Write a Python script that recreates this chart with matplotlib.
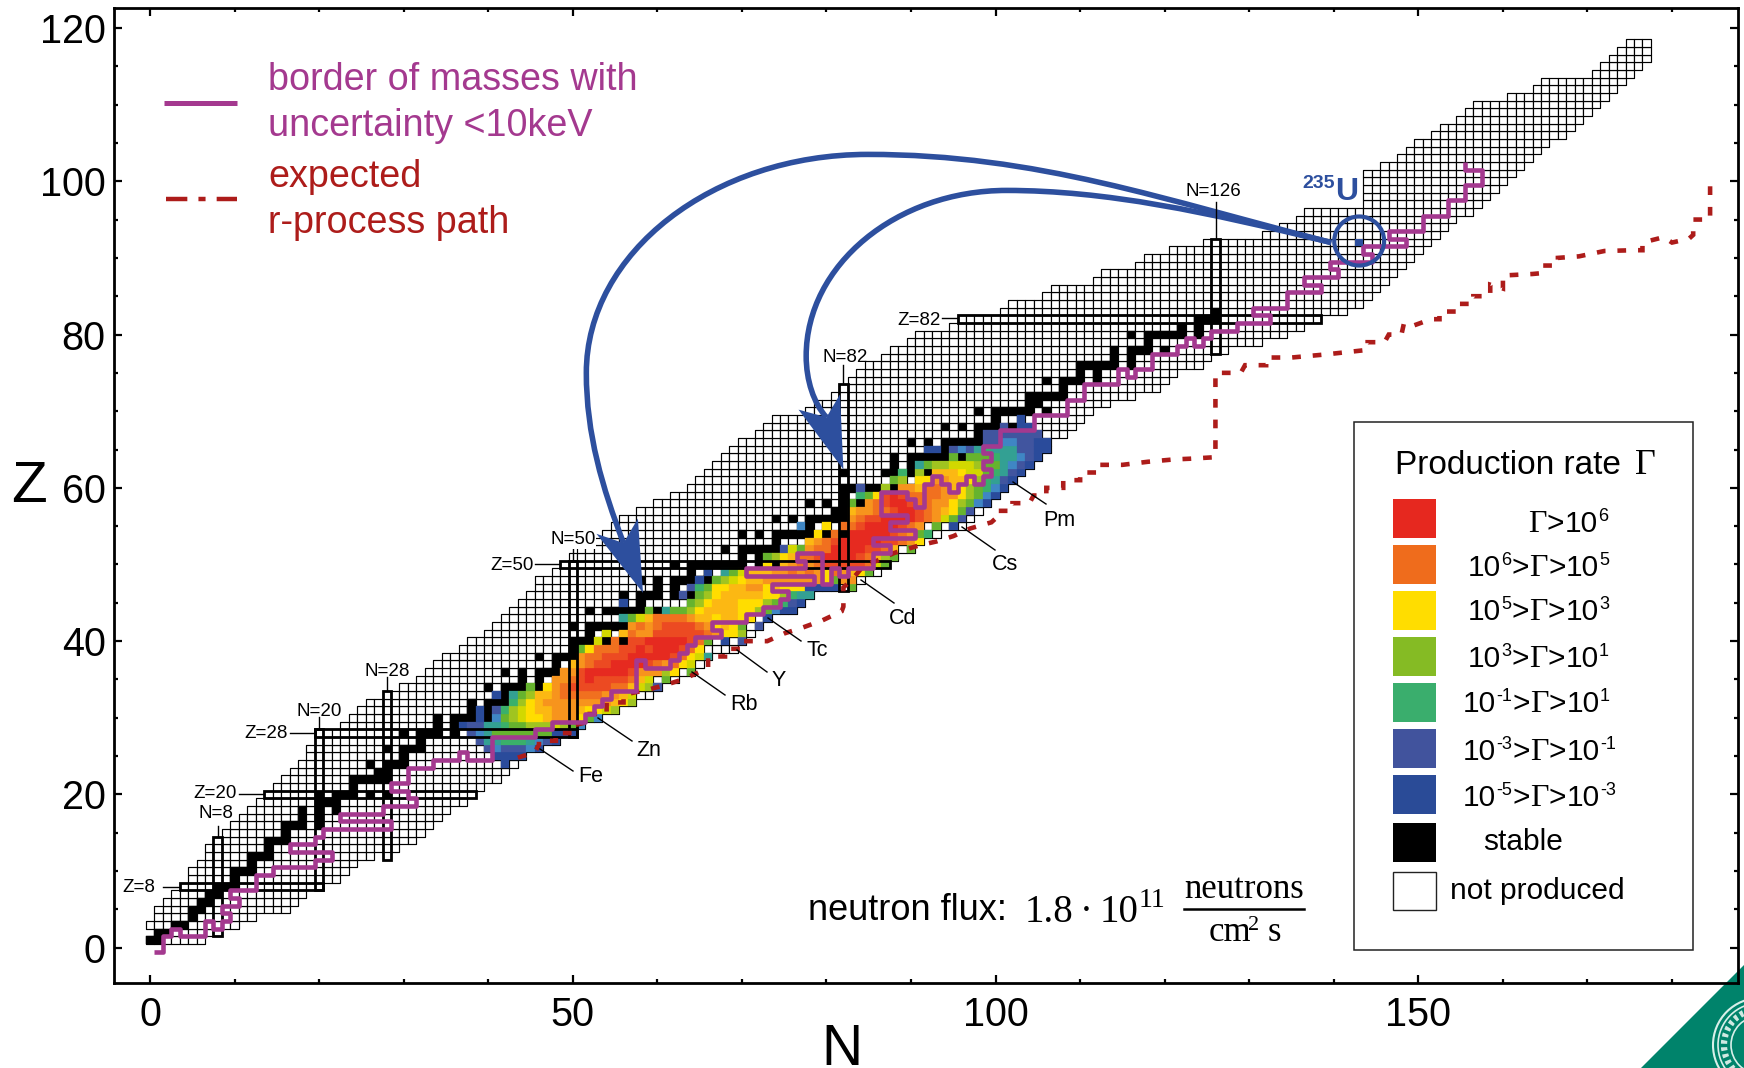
import numpy as np
import matplotlib
matplotlib.use("Agg")
import matplotlib.pyplot as plt
from matplotlib.collections import PolyCollection
from matplotlib.lines import Line2D
from matplotlib.patches import Rectangle, Ellipse, Polygon, PathPatch, Circle
from matplotlib.path import Path
from matplotlib.transforms import IdentityTransform
from matplotlib.ticker import MultipleLocator

W, H = 1744, 1068
SANS = "Liberation Sans"
SERIF = "Liberation Serif"

# ---- nuclide chart extent: first / last N for Z = 1..118
NMIN = [0,1,0,1,1,2,3,4,5,5,6,7,7,8,9,10,11,12,13,14,15,16,17,18,19,19,20,20,23,24,
        25,26,28,30,32,33,34,35,37,38,40,41,42,43,44,45,46,46,48,49,50,51,52,54,55,56,58,60,62,64,
        65,66,67,68,69,70,72,73,74,78,79,81,82,83,84,85,87,88,90,91,95,96,101,102,106,107,112,113,117,118,
        121,125,132,134,136,137,144,144,144,144,144,146,148,149,150,152,153,155,156,157,161,164,165,171,172,173,174,175]
NMAX = [6,8,10,12,16,17,18,20,22,23,24,26,29,31,32,33,34,35,37,38,39,41,42,43,44,46,48,50,51,53,
        55,57,59,60,62,64,65,66,69,70,71,72,73,76,77,78,83,84,86,87,88,90,91,93,96,97,98,99,100,101,
        102,103,104,105,106,106,108,109,110,111,113,116,119,120,121,124,125,127,131,134,136,138,141,143,144,145,146,147,148,149,
        150,151,152,153,154,156,157,158,159,160,161,162,163,164,165,167,168,169,170,171,172,173,174,175,176,177,177,177]

# ---- stable nuclides: Z -> neutron numbers
STABLE = {
 1:[0,1],2:[1,2],3:[3,4],4:[5],5:[5,6],6:[6,7],7:[7,8],8:[8,9,10],9:[10],10:[10,11,12],11:[12],
 12:[12,13,14],13:[14],14:[14,15,16],15:[16],16:[16,17,18,20],17:[18,20],18:[18,20,22],19:[20,21,22],
 20:[20,22,23,24,26,28],21:[24],22:[24,25,26,27,28],23:[27,28],24:[26,28,29,30],25:[30],26:[28,30,31,32],
 27:[32],28:[30,32,33,34,36],29:[34,36],30:[34,36,37,38,40],31:[38,40],32:[38,40,41,42,44],33:[42],
 34:[40,42,43,44,46,48],35:[44,46],36:[42,44,46,47,48,50],37:[48,50],38:[46,48,49,50],39:[50],
 40:[50,51,52,54,56],41:[52],42:[50,52,53,54,55,56,58],44:[52,54,55,56,57,58,60],45:[58],
 46:[56,58,59,60,62,64],47:[60,62],48:[58,60,62,63,64,65,66,68],49:[64,66],
 50:[62,64,65,66,67,68,69,70,72,74],51:[70,72],52:[68,70,71,72,73,74,76,78],53:[74],
 54:[70,72,74,75,76,77,78,80,82],55:[78],56:[74,76,78,79,80,81,82],57:[81,82],58:[78,80,82,84],59:[82],
 60:[82,83,84,85,86,88,90],62:[82,87,88,90,92],63:[88,90],64:[88,90,91,92,93,94,96],65:[94],
 66:[90,92,94,95,96,97,98],67:[98],68:[94,96,98,99,100,102],69:[100],70:[98,100,101,102,103,104,106],
 71:[104,105],72:[104,105,106,107,108],73:[108],74:[106,108,109,110,112],75:[110,112],
 76:[110,111,112,113,114,116],77:[114,116],78:[114,116,117,118,120],79:[118],
 80:[116,118,119,120,121,122,124],81:[122,124],82:[124,125,126],83:[126],
}

# ---- production rate classes: (Z, first N, one code per nuclide; '.' = nothing drawn)
RATE_ROWS = [
 (24,42,"0"),(25,41,"0000"),(26,40,"1211120"),(27,39,"1334443210"),
 (28,38,"1235555555000"),(29,37,"011334556667652"),(30,39,"0.2567889aaa852"),
 (31,39,"0.1467899aaa98876"),(32,43,"4689aaaaaaaa986"),(33,41,"0.35699abbbbbaa97"),
 (34,45,"5.8abcccccbb9761"),(35,48,"aabcdccccb97.5"),(36,49,"aacdddddcaaa68.5"),
 (37,50,"9abccddddcbab87"),(38,51,"abbcccdddddcb873"),(39,51,"58bbbccdcdddcb8"),
 (40,53,"7.b.ccdddddcb5.0.1"),(41,54,"7.9baaccccccba886"),(42,57,"ababccccba8985.1"),
 (43,56,"3579bbbba9989988.0"),(44,59,"5.3556899998865200"),(45,56,"0"),(45,64,"56899988865410"),
 (46,63,"1.56899999886433"),(47,64,"1458899aa898880000.5"),(48,65,"0.567899aaaaaaa85aa"),
 (49,66,"0.357999aababa8ba985"),(50,73,"8.9ababcccccb75"),(51,73,"5689bbcddddcb965"),
 (52,75,"175abbddddccb9.5"),(53,78,"9abcdddddccba8"),(54,79,"8.b.dddddcba54"),
 (55,77,"2"),(55,80,"8.bbcddddcba.5.0"),(56,83,"abccddddcba751"),(57,83,"9aabbcddcba9851"),
 (58,83,"5.abcddcbbaa86520"),(59,84,"458cdcbbbbaa86520"),(60,84,"1"),(60,87,"6.aa9bba9865420"),
 (61,88,"56.88aa99864310"),(62,89,"4.6.99987754310"),(63,91,"35667776553210"),
 (64,95,"5.555433210"),(65,92,"00.121343331100"),(66,99,"11221100"),(67,99,"1111111"),
 (68,101,"1.00"),(69,103,"0"),
]
RATE_COLORS = {"0":"#2a4b9b","1":"#41559f","2":"#3f86c4","3":"#33a093","4":"#3ab06a","5":"#66b32e",
               "6":"#a0c420","7":"#d2d800","8":"#ffdd00","9":"#fcb813","a":"#f7941d","b":"#f1701f",
               "c":"#ec4a22","d":"#e62a20"}

# ---- closed-shell boxes
MAGIC_Z = [(8,3.5,20.5),(20,13.5,38.5),(28,19.5,50.5),(50,48.5,87.5),(82,95.5,138.5)]
MAGIC_N = [(8,1.5,14.5),(20,7.5,28.5),(28,11.5,33.5),(50,27.5,50.5),(82,46.5,73.5),(126,77.5,92.5)]

# ---- mass uncertainty border (N, Z)
BORDER = [(0.5,-0.5),(1.5,-0.5),(1.5,1.5),(2.5,1.5),(2.5,2.5),(3.5,2.5),(3.5,1.5),(6.5,1.5),(6.5,3.5),(7.5,3.5),
 (7.5,2.5),(8.5,2.5),(8.5,3.5),(9.5,3.5),(9.5,4.5),(8.5,4.5),(8.5,5.5),(10.5,5.5),(10.5,6.5),(9.5,6.5),(9.5,7.5),
 (12.5,7.5),(12.5,9.5),(14.5,9.5),(14.5,10.5),(19.5,10.5),(19.5,11.5),(21.5,11.5),(21.5,12.5),(16.5,12.5),
 (16.5,13.5),(19.5,13.5),(19.5,14.5),(20.5,14.5),(20.5,15.5),(28.5,15.5),(28.5,16.5),(22.5,16.5),(22.5,17.5),
 (27.5,17.5),(27.5,18.5),(31.5,18.5),(31.5,19.5),(30.5,19.5),(30.5,20.5),(28.5,20.5),(28.5,21.5),(30.5,21.5),
 (30.5,23.5),(33.5,23.5),(33.5,24.5),(36.5,24.5),(36.5,25.5),(37.5,25.5),(37.5,24.5),(40.5,24.5),(40.5,27.5),
 (45.5,27.5),(45.5,28.5),(47.5,28.5),(47.5,29.5),(51.5,29.5),(51.5,30.5),(52.5,30.5),(52.5,31.5),(53.5,31.5),
 (53.5,32.5),(54.5,32.5),(54.5,33.5),(57.5,33.5),(57.5,37.5),(58.5,37.5),(58.5,36.5),(61.5,36.5),(61.5,37.5),
 (62.5,37.5),(62.5,38.5),(63.5,38.5),(63.5,39.5),(64.5,39.5),(64.5,40.5),(67.5,40.5),(67.5,41.5),(66.5,41.5),
 (66.5,42.5),(70.5,42.5),(70.5,43.5),(72.5,43.5),(72.5,44.5),(74.5,44.5),(74.5,45.5),(75.5,45.5),(75.5,46.5),
 (73.5,46.5),(73.5,47.5),(78.5,47.5),(78.5,48.5),(70.5,48.5),(70.5,49.5),(77.5,49.5),(77.5,50.5),(76.5,50.5),
 (76.5,51.5),(79.5,51.5),(79.5,47.5),(80.5,47.5),(80.5,49.5),(81.5,49.5),(81.5,48.5),(82.5,48.5),(82.5,49.5),
 (85.5,49.5),(85.5,51.5),(87.5,51.5),(87.5,52.5),(85.5,52.5),(85.5,53.5),(90.5,53.5),(90.5,54.5),(87.5,54.5),
 (87.5,55.5),(89.5,55.5),(89.5,56.5),(86.5,56.5),(86.5,59.5),(89.5,59.5),(89.5,58.5),(90.5,58.5),(90.5,57.5),
 (91.5,57.5),(91.5,60.5),(92.5,60.5),(92.5,61.5),(93.5,61.5),(93.5,60.5),(94.5,60.5),(94.5,59.5),(95.5,59.5),
 (95.5,60.5),(96.5,60.5),(96.5,61.5),(97.5,61.5),(97.5,60.5),(98.5,60.5),(98.5,61.5),(99.5,61.5),(99.5,62.5),
 (98.5,62.5),(98.5,63.5),(99.5,63.5),(99.5,64.5),(98.5,64.5),(98.5,65.5),(100.5,65.5),(100.5,67.5),(104.5,67.5),
 (104.5,69.5),(108.5,69.5),(108.5,71.5),(110.5,71.5),(110.5,73.5),(114.5,73.5),(114.5,75.5),(115.5,75.5),
 (115.5,74.5),(116.5,74.5),(116.5,75.5),(118.5,75.5),(118.5,77.5),(121.5,77.5),(121.5,78.5),(122.5,78.5),
 (122.5,79.5),(123.5,79.5),(123.5,78.5),(124.5,78.5),(124.5,79.5),(125.5,79.5),(125.5,80.5),(128.5,80.5),
 (128.5,81.5),(132.5,81.5),(132.5,82.5),(130.5,82.5),(130.5,83.5),(134.5,83.5),(134.5,85.5),(138.5,85.5),
 (138.5,86.5),(136.5,86.5),(136.5,87.5),(140.5,87.5),(140.5,88.5),(139.5,88.5),(139.5,89.5),(144.5,89.5),
 (144.5,90.5),(143.5,90.5),(143.5,91.5),(148.5,91.5),(148.5,92.5),(146.5,92.5),(146.5,93.5),(150.5,93.5),
 (150.5,95.5),(153.5,95.5),(153.5,97.5),(155.5,97.5),(155.5,99.5),(157.5,99.5),(157.5,101.5),(155.5,101.5),(155.5,102.5)]

# ---- r-process path (N, Z)
RPATH = [(43.5,24.8),(45.5,25.5),(46,26.5),(46,27),(48,27),(48,28),(50,28),(50,29),(52,29.5),(52,30.5),(54,30.5),
 (54,32),(56,32),(56,33),(59,33.7),(61,34.3),(63,35),(65,36),(66,36.5),(66,38),(68,38),(68,39),(70,39),(70,40),
 (73,40),(75,41),(77,41.7),(79.5,42.7),(81.8,43.9),(82,44.5),(82,47),(83,48),(84.5,50),(86,50.5),(88,51.5),(91,52.5),
 (93,53),(95,53.7),(97,54.7),(99.5,55.5),(100,56),(100,57),(102,57),(102,58),(104,58),(104.5,59),(106,59),(106,60),
 (108,60),(108,61),(110,61),(110,62),(112,62),(112,63),(115,63),(118,63.4),(121,63.7),(123,63.8),(126,64),(126,75),
 (129,75),(129.5,76),(132,76),(132,77),(135,77),(139,77.4),(141.5,77.7),(144,78),(144,79),(146,79),(146.5,80),
 (148,80),(148.3,81.5),(149.5,81.2),(151.5,82),(152.5,82),(152.5,83),(154.5,83),(154.5,84),(156.5,84),(156.5,85),
 (158.5,85),(158.5,86.5),(160,86),(160,87.7),(163.5,87.9),(164.5,88),(164.5,89),(166.5,89),(166.5,90),(169,90.2),
 (172,90.9),(175.5,91),(176.5,91),(176.5,92),(179,92.7),(180,92),(182,92.5),(182.5,93),(182.5,95),(184.5,95),(184.5,100.2)]

# ---- fission arrows: cubic Bezier control points (N, Z)
ARROW_A = [(139.7,92),(120,97.5),(105,103.5),(84.9,103.5),(66.6,103.5),(51.6,90.7),(51.6,75),(51.6,67),(53.5,60),(56,52.8)]
ARROW_B = [(139.7,92),(125,96),(113,98.8),(101.3,98.8),(88.3,98.8),(77.6,89.1),(77.6,77.2),(77.6,74),(78.5,71),(80,69.2)]
HEAD_A = [(58.3,46.3),(52.8,54),(56,52.8),(57.7,56)]
HEAD_B = [(82,62.4),(76.7,70.2),(80,69.2),(81.6,72.2)]

LEG_COLORS = ["#e6281f","#ef6c1c","#ffdd00","#85bb24","#3aae6d","#41539d","#2a4b97","#000000","#ffffff"]
MAG = "#a4398f"
RED = "#ad1c1a"
BLUE = "#2d4f9e"
GREEN = "#00836b"

plt.rcParams["font.family"] = [SANS, "DejaVu Sans"]
fig = plt.figure(figsize=(W/100, H/100), dpi=100)
renderer = fig.canvas.get_renderer()
ax = fig.add_axes([114/W, 1-983/H, (1738-114)/W, (983-8)/H])
ax.set_xlim(-4.26, 187.8)
ax.set_ylim(-4.6, 122.6)
ax.patch.set_alpha(0)

def fx(x): return x/W
def fy(y): return 1-y/H
def ptext(x, y, s, **kw):
    kw.setdefault("ha", "center"); kw.setdefault("va", "center")
    return fig.text(fx(x), fy(y), s, **kw)
def pline(x0, y0, x1, y1, color="k", lw=1.0, **kw):
    fig.add_artist(Line2D([fx(x0), fx(x1)], [fy(y0), fy(y1)], color=color, lw=lw,
                          transform=fig.transFigure, **kw))
def rich(x, y, pieces):
    for s, fam, size, up, col in pieces:
        t = fig.text(fx(x), fy(y-up), s, family=fam, fontsize=size, color=col, ha="left", va="baseline")
        x += t.get_window_extent(renderer).width + size*0.01

def cell(n, z):
    return [(n-.5, z-.5), (n+.5, z-.5), (n+.5, z+.5), (n-.5, z+.5)]

# grid
verts = [cell(n, z) for z, (a, b) in enumerate(zip(NMIN, NMAX), start=1) for n in range(a, b+1)]
ax.add_collection(PolyCollection(verts, facecolors="white", edgecolors="#000000", linewidths=0.85, zorder=1))
# stable
verts = [cell(n, z) for z, ns in STABLE.items() for n in ns]
ax.add_collection(PolyCollection(verts, facecolors="black", edgecolors="black", linewidths=0.3, zorder=2))
# rates
verts, cols = [], []
for z, start, codes in RATE_ROWS:
    for i, c in enumerate(codes):
        if c != ".":
            verts.append(cell(start+i, z)); cols.append(RATE_COLORS[c])
ax.add_collection(PolyCollection(verts, facecolors=cols, edgecolors=cols, linewidths=0.2, zorder=3))
# boxes
for z, a, b in MAGIC_Z:
    ax.add_patch(Rectangle((a, z-.5), b-a, 1, fill=False, ec="black", lw=2.0, zorder=4))
for n, a, b in MAGIC_N:
    ax.add_patch(Rectangle((n-.5, a), 1, b-a, fill=False, ec="black", lw=2.0, zorder=4))
# paths
bn, bz = zip(*BORDER)
rn, rz = zip(*RPATH)
ax.plot(rn, rz, color=RED, lw=3.3, ls=(0, (1.9, 2.6)), zorder=5, dash_joinstyle="miter", dash_capstyle="butt")
ax.plot(bn, bz, color=MAG, lw=3.3, zorder=6, solid_joinstyle="round", solid_capstyle="butt")

def bezier(pts):
    return Path(pts, [Path.MOVETO] + [Path.CURVE4]*(len(pts)-1))

for pts, head in [(ARROW_A, HEAD_A), (ARROW_B, HEAD_B)]:
    ax.add_patch(PathPatch(bezier(pts), fc="none", ec=BLUE, lw=4.0, zorder=7, capstyle="butt"))
    ax.add_patch(Polygon(head, closed=True, fc=BLUE, ec="none", zorder=7))
ax.add_patch(Ellipse((143, 92.2), 5.9, 6.4, fc="none", ec=BLUE, lw=3, zorder=7))
ax.add_patch(Rectangle((142.5, 91.5), 1, 1, fc=BLUE, ec="none", zorder=7))

# axes styling
for s in ax.spines.values():
    s.set_linewidth(2.0); s.set_zorder(10)
ax.xaxis.set_major_locator(MultipleLocator(50)); ax.xaxis.set_minor_locator(MultipleLocator(10))
ax.yaxis.set_major_locator(MultipleLocator(20)); ax.yaxis.set_minor_locator(MultipleLocator(5))
ax.tick_params(which="major", direction="in", length=6, width=1.6, top=True, right=True, labelsize=28.5)
ax.tick_params(which="minor", direction="in", length=3, width=1.6, top=True, right=True)
ax.tick_params(axis="x", which="major", pad=9)
ax.tick_params(axis="y", which="major", pad=6)
ptext(842, 1065, "N", fontsize=41, va="baseline")
ptext(29, 487, "Z", fontsize=42)

# shell and element labels
for s, x, y in [("Z=8",139,887),("Z=20",215,793),("Z=28",266,733),("N=20",319,711),("N=28",387,672),("N=8",216,814),
                ("Z=50",512,565),("N=50",573,540),("N=82",845,358),("Z=82",919,320),("N=126",1213,192)]:
    t = ptext(x, y, s, fontsize=13.5)
    if s == "N=50":
        t.set_bbox(dict(fc="white", ec="none", pad=0.5))
for x0,y0,x1,y1 in [(163,887,179,887),(239,794,264,794),(290,733,315,733),(319,717,319,729),(387,677,387,691),
                    (218,826,218,836),(535,564,560,564),(573,547,573,560),(843,365,843,383),(942,318,957,318),
                    (1216,202,1216,238)]:
    pline(x0,y0,x1,y1,lw=1.0)
for s, x, y, seg in [("Fe",591,776,(540,749,573,771)),("Zn",649,750,(598,718,632,741)),("Rb",744,705,(692,672,725,695)),
                     ("Y",779,681,(737,650,767,672)),("Tc",817,651,(768,618,801,641)),("Cd",903,618,(861,580,894,603)),
                     ("Cs",1005,565,(962,527,995,550)),("Pm",1059,520,(1013,482,1046,504))]:
    ptext(x, y, s, fontsize=15.5)
    pline(*seg, lw=1.0)

# U label
ptext(1319, 184, "235", fontsize=14, fontweight="bold", color=BLUE)
ptext(1347, 192, "U", fontsize=23, fontweight="bold", color=BLUE)

# top-left key
ptext(268, 80, "border of masses with", fontsize=27.2, color=MAG, ha="left")
ptext(268, 126, "uncertainty <10keV", fontsize=27.2, color=MAG, ha="left")
ptext(268, 177, "expected", fontsize=27.2, color=RED, ha="left")
ptext(268, 223, "r-process path", fontsize=27.2, color=RED, ha="left")
pline(164, 103, 237, 103, color=MAG, lw=3.6, solid_capstyle="butt")
pline(166, 199, 237, 199, color=RED, lw=3.2, ls=(0, (4.8, 2.5, 1.6, 2.5, 4.8, 1)), dash_capstyle="butt")

# flux text
ptext(808, 910, "neutron flux:", fontsize=26, ha="left")
for s, x, y, size in [("1.8", 1025, 922, 28), ("·", 1080, 922, 28), ("10", 1100, 922, 28), ("11", 1139, 907, 20)]:
    fig.text(fx(x), fy(y), s, family=SERIF, fontsize=size, ha="left", va="baseline")
ptext(1244, 890, "neutrons", fontsize=25, family=SERIF)
for s, x, y, size in [("cm", 1209, 941, 25), ("2", 1248, 930, 16), ("s", 1268, 941, 25)]:
    fig.text(fx(x), fy(y), s, family=SERIF, fontsize=size, ha="left", va="baseline")
pline(1184, 909, 1304, 909, lw=1.8)

# production-rate legend
fig.add_artist(Rectangle((fx(1354), fy(950)), (1693-1354)/W, (950-422)/H, transform=fig.transFigure,
                         fc="white", ec="#222222", lw=1.1, zorder=2))
for (y0, y1), c in zip([(499,538),(545,584),(591,630),(637,676),(683,722),(729,768),(775,814),(823,862),(872,910)], LEG_COLORS):
    fig.add_artist(Rectangle((fx(1393), fy(y1)), (1436-1393)/W, (y1-y0)/H, transform=fig.transFigure, fc=c,
                             ec="#222222" if c == "#ffffff" else "none", lw=1.0, zorder=3))
def rate_label(x, y, hi, lo):
    p = []
    if hi is not None:
        p += [("10", SANS, 21.5, 0, "k"), (hi, SANS, 13, 11, "k"), (">", SANS, 21.5, 0, "k")]
    p += [("Γ", SERIF, 23, 0, "k"), (">", SANS, 21.5, 0, "k"), ("10", SANS, 21.5, 0, "k"), (lo, SANS, 13, 11, "k")]
    rich(x, y+10, p)
ptext(1395, 465, "Production rate", fontsize=24, ha="left")
ptext(1635, 465, "Γ", fontsize=26, family=SERIF, ha="left")
rate_label(1528, 522, None, "6")
rate_label(1468, 566, "6", "5")
rate_label(1468, 610, "5", "3")
rate_label(1468, 657, "3", "1")
rate_label(1463, 702, "-1", "1")
rate_label(1463, 750, "-3", "-1")
rate_label(1463, 796, "-5", "-3")
ptext(1483, 842, "stable", fontsize=21.5, ha="left")
ptext(1450, 891, "not produced", fontsize=21.5, ha="left")
for t in fig.texts:
    t.set_zorder(5)

# corner logo
px = IdentityTransform()
logo = [Polygon([(1641, 0), (1744, 103), (1744, 0)], closed=True, fc=GREEN, ec="none", transform=px, zorder=0)]
cx, cy = 1760, 1068-1045
logo += [Circle((cx, cy), r, fc="none", ec=e, lw=l, ls=s, transform=px, zorder=1)
         for r, e, l, s in [(47, "#d8efe9", 1.5, "-"), (42, "#d8efe9", 1.2, "-"), (36, "#cfe9e2", 4.5, (0, (0.55, 0.55))), (29, "#d8efe9", 1.2, "-")]]
for a in logo:
    fig.add_artist(a)

fig.savefig("out.png", dpi=100)
